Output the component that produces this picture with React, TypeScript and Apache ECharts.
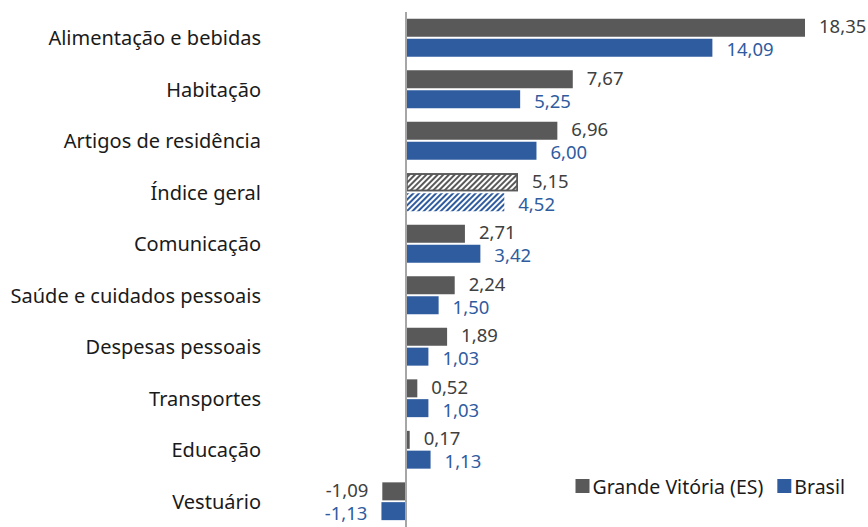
import React, { useEffect, useRef } from "react";
import * as echarts from "echarts";

const categories = [
  "Alimentação e bebidas",
  "Habitação",
  "Artigos de residência",
  "Índice geral",
  "Comunicação",
  "Saúde e cuidados pessoais",
  "Despesas pessoais",
  "Transportes",
  "Educação",
  "Vestuário",
];
const grandeVitoria = [18.35, 7.67, 6.96, 5.15, 2.71, 2.24, 1.89, 0.52, 0.17, -1.09];
const brasil = [14.09, 5.25, 6.0, 4.52, 3.42, 1.5, 1.03, 1.03, 1.13, -1.13];
const seriesNames = ["Grande Vitória (ES)", "Brasil"];
const hatchedIndex = 3;

const GRAY = "#595959";
const BLUE = "#2f5c9f";
const FONT = "'Noto Sans', 'Open Sans', sans-serif";

const fmt = (v: number) => v.toFixed(2).replace(".", ",");

function buildData(values: number[], color: string, hatchBorder: boolean) {
  return values.map((v, i) => {
    const item: any = {
      value: v,
      label: { position: v < 0 ? "left" : "right" },
    };
    if (i === hatchedIndex) {
      item.itemStyle = {
        color: "#ffffff",
        borderColor: hatchBorder ? color : "transparent",
        borderWidth: hatchBorder ? 1.5 : 0,
        decal: {
          symbol: "rect",
          symbolSize: 1,
          color: color,
          dashArrayX: [1, 0],
          dashArrayY: [2, 2],
          rotation: -Math.PI / 4,
        },
      };
    }
    return item;
  });
}

export default function App() {
  const ref = useRef<HTMLDivElement>(null);
  useEffect(() => {
    if (!ref.current) return;
    const chart = echarts.init(ref.current, undefined, { renderer: "svg" });
    chart.setOption({
      animation: false,
      backgroundColor: "#ffffff",
      textStyle: { fontFamily: FONT },
      legend: {
        right: 18,
        top: 471,
        itemWidth: 14,
        itemHeight: 14,
        itemGap: 14,
        icon: "rect",
        textStyle: { fontSize: 19.5, color: "#1a1a1a", fontFamily: FONT, padding: [0, 0, 0, -2] },
        data: seriesNames,
      },
      grid: { left: 270, top: 12, width: 598, height: 518, containLabel: false },
      xAxis: {
        type: "value",
        min: -6.255,
        max: 21.247,
        axisLine: { show: false },
        axisTick: { show: false },
        axisLabel: { show: false },
        splitLine: { show: false },
      },
      yAxis: {
        type: "category",
        data: categories,
        inverse: true,
        axisLine: { show: false },
        axisTick: { show: false },
        axisLabel: {
          fontSize: 20,
          color: "#1a1a1a",
          margin: 9,
          fontFamily: FONT,
        },
      },
      series: [
        {
          name: seriesNames[0],
          type: "bar",
          barWidth: 18,
          barGap: "10%",
          itemStyle: { color: GRAY },
          label: {
            show: true,
            distance: 14,
            fontSize: 18.5,
            lineHeight: 18,
            offset: [0, -2],
            color: "#404040",
            fontFamily: FONT,
            formatter: (p: any) => fmt(p.value),
          },
          data: buildData(grandeVitoria, GRAY, true),
          markLine: {
            silent: true,
            symbol: "none",
            label: { show: false },
            lineStyle: { color: "#a6a6a6", width: 2, type: "solid" },
            data: [{ xAxis: 0 }],
            z: 10,
          },
        },
        {
          name: seriesNames[1],
          type: "bar",
          barWidth: 18,
          itemStyle: { color: BLUE },
          label: {
            show: true,
            distance: 14,
            fontSize: 18.5,
            lineHeight: 18,
            offset: [0, 1],
            color: BLUE,
            fontFamily: FONT,
            formatter: (p: any) => fmt(p.value),
          },
          data: buildData(brasil, BLUE, false),
        },
      ],
    });
    return () => chart.dispose();
  }, []);
  return (
    <div
      ref={ref}
      style={{ position: "fixed", left: 0, top: 0, width: 868, height: 527, background: "#fff" }}
    />
  );
}
